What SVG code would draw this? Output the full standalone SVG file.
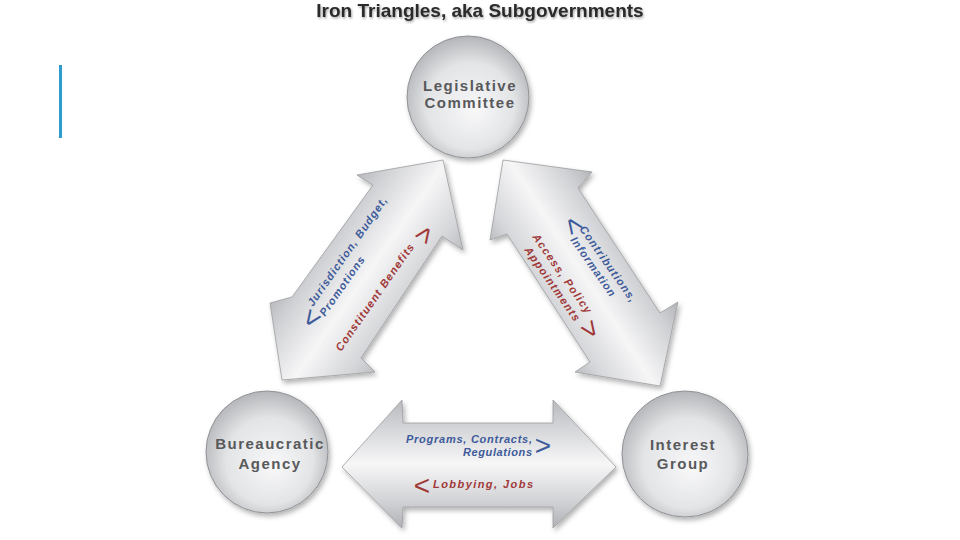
<svg xmlns="http://www.w3.org/2000/svg" width="960" height="540" viewBox="0 0 960 540">
  <defs>
    <filter id="shadow" x="-20%" y="-20%" width="140%" height="140%">
      <feDropShadow dx="2" dy="3" stdDeviation="2.5" flood-color="#000" flood-opacity="0.3"/>
    </filter>
    <filter id="tshadow" x="-5%" y="-30%" width="110%" height="160%">
      <feDropShadow dx="1" dy="1.5" stdDeviation="1" flood-color="#000" flood-opacity="0.35"/>
    </filter>
    <radialGradient id="circleGrad" cx="0.5" cy="0.55" r="0.55" fx="0.56" fy="0.62">
      <stop offset="0" stop-color="#f8f8f9"/>
      <stop offset="0.65" stop-color="#e3e4e6"/>
      <stop offset="1" stop-color="#b3b5b8"/>
    </radialGradient>
    <linearGradient id="gBottom" gradientUnits="userSpaceOnUse" x1="0" y1="400" x2="0" y2="528">
      <stop offset="0" stop-color="#b8b9bc"/>
      <stop offset="0.2" stop-color="#d2d3d6"/>
      <stop offset="0.5" stop-color="#f7f7f8"/>
      <stop offset="0.8" stop-color="#d0d1d4"/>
      <stop offset="1" stop-color="#b0b1b4"/>
    </linearGradient>
    <linearGradient id="gLeft" gradientUnits="userSpaceOnUse" x1="277" y1="286" x2="387" y2="363">
      <stop offset="0" stop-color="#b5b6b9"/>
      <stop offset="0.17" stop-color="#d0d1d4"/>
      <stop offset="0.5" stop-color="#f6f6f7"/>
      <stop offset="0.83" stop-color="#d3d4d7"/>
      <stop offset="1" stop-color="#b8b9bc"/>
    </linearGradient>
    <linearGradient id="gRight" gradientUnits="userSpaceOnUse" x1="490" y1="246" x2="595" y2="178">
      <stop offset="0" stop-color="#b8b9bc"/>
      <stop offset="0.18" stop-color="#d6d7da"/>
      <stop offset="0.5" stop-color="#f6f6f7"/>
      <stop offset="0.83" stop-color="#d0d1d4"/>
      <stop offset="1" stop-color="#b5b6b9"/>
    </linearGradient>
    <style>
      .title { font-family: "Liberation Sans", Arial, sans-serif; font-weight: bold; font-size: 19px; fill: #2b2b2b; }
      .node circle { fill: url(#circleGrad); stroke: #909296; stroke-width: 1; filter: url(#shadow); }
      .node text { font-family: "Liberation Sans", Arial, sans-serif; font-weight: bold; font-size: 15px; letter-spacing: 1.5px; fill: #58595b; text-anchor: middle; }
      .arrow { stroke: #9c9da0; stroke-width: 0.8; stroke-linejoin: round; filter: url(#shadow); }
      .lbl { font-family: "Liberation Sans", Arial, sans-serif; font-style: italic; font-weight: bold; font-size: 11px; }
      .blue { fill: #3d5a9a; }
      .red { fill: #a03838; }
      .chev { font-family: "Liberation Sans", Arial, sans-serif; font-size: 28px; text-anchor: middle; }
    </style>
  </defs>

  <rect width="960" height="540" fill="#ffffff"/>

  <text class="title" x="480" y="17" text-anchor="middle" filter="url(#tshadow)">Iron Triangles, aka Subgovernments</text>

  <rect x="59" y="65" width="3" height="73" fill="#2f9ccc"/>

  <g id="connectors">
    <g id="arrow-bureaucratic-legislative">
      <polygon class="arrow" fill="url(#gLeft)" points="443,160 463,250 442,236 361,358 375,372 282,380 270,303 292,297 373,185 357,175"/>
      <text class="lbl blue" transform="translate(313,307) rotate(-55)" textLength="130" lengthAdjust="spacing">Jurisdiction, Budget,</text>
      <text class="lbl blue" transform="translate(325,317) rotate(-55)" textLength="70" lengthAdjust="spacing">Promotions</text>
      <text class="chev blue" transform="translate(311,318) rotate(-55)" y="10">&lt;</text>
      <text class="lbl red" transform="translate(341,352) rotate(-55)" textLength="128" lengthAdjust="spacing">Constituent Benefits</text>
      <text class="chev red" transform="translate(424,234) rotate(-55)" y="10">&gt;</text>
    </g>
    <g id="arrow-legislative-interest">
      <polygon class="arrow" fill="url(#gRight)" points="503,160 592,172 578,188 660,313 678,302 660,386 575,372 590,362 507,234 490,240"/>
      <text class="lbl blue" transform="translate(579,229) rotate(55)" textLength="90" lengthAdjust="spacing">Contributions,</text>
      <text class="lbl blue" transform="translate(570,240) rotate(55)" textLength="70" lengthAdjust="spacing">Information</text>
      <text class="chev blue" transform="translate(574,225) rotate(55)" y="10">&lt;</text>
      <text class="lbl red" transform="translate(532,237) rotate(55)" textLength="94" lengthAdjust="spacing">Access, Policy</text>
      <text class="lbl red" transform="translate(524,250) rotate(55)" textLength="88" lengthAdjust="spacing">Appointments</text>
      <text class="chev red" transform="translate(591,329) rotate(55)" y="10">&gt;</text>
    </g>
    <g id="arrow-bureaucratic-interest">
      <polygon class="arrow" fill="url(#gBottom)" points="342,467 402,400 403,423 553,423 553,400 616,467 553,528 553,507 403,507 402,528"/>
      <text class="lbl blue" x="532" y="443" text-anchor="end" textLength="126" lengthAdjust="spacing">Programs, Contracts,</text>
      <text class="lbl blue" x="532" y="456" text-anchor="end" textLength="69" lengthAdjust="spacing">Regulations</text>
      <text class="chev blue" x="543" y="455">&gt;</text>
      <text class="chev red" x="422" y="495">&lt;</text>
      <text class="lbl red" x="433" y="488" textLength="100" lengthAdjust="spacing">Lobbying, Jobs</text>
    </g>
  </g>

  <g id="node-legislative" class="node">
    <circle cx="468" cy="97" r="61"/>
    <text x="470" y="91">Legislative</text>
    <text x="470" y="108">Committee</text>
  </g>

  <g id="node-bureaucratic" class="node">
    <circle cx="267" cy="452" r="61"/>
    <text x="270" y="449">Bureaucratic</text>
    <text x="270" y="469">Agency</text>
  </g>

  <g id="node-interest" class="node">
    <circle cx="685" cy="454" r="63"/>
    <text x="683" y="450">Interest</text>
    <text x="683" y="469">Group</text>
  </g>
</svg>
